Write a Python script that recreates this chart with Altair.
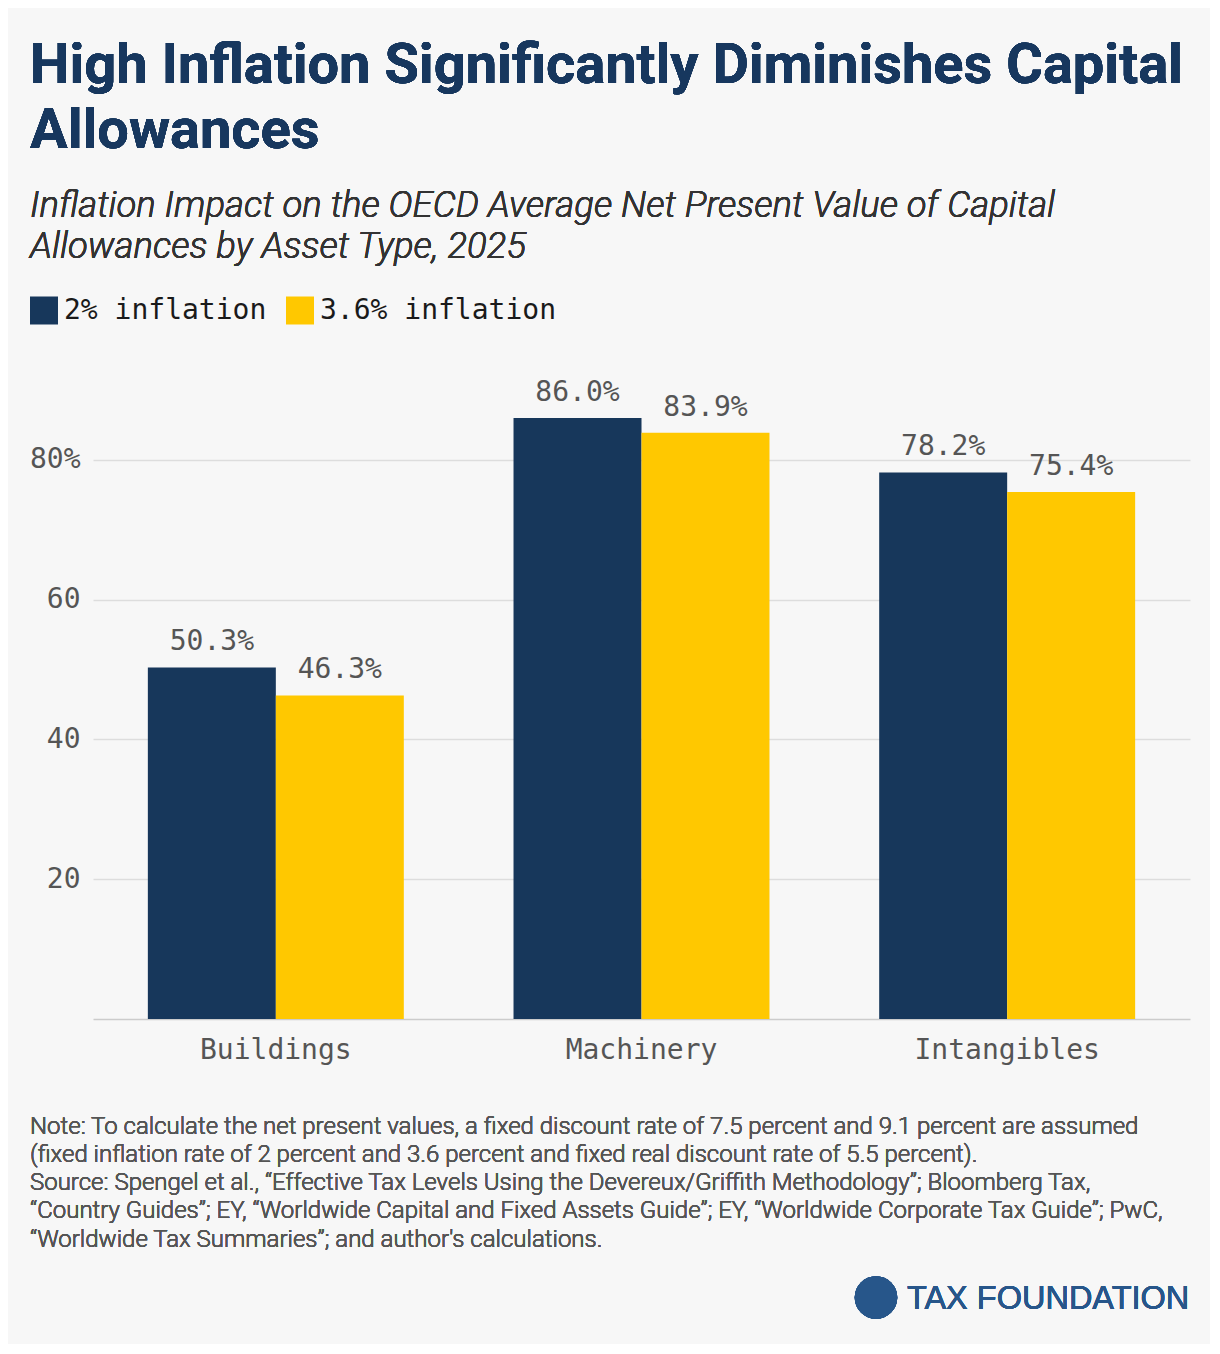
import altair as alt
import pandas as pd

categories = ["Buildings", "Machinery", "Intangibles"]
series = ["2% inflation", "3.6% inflation"]
values_2 = [50.3, 86.0, 78.2]
values_36 = [46.3, 83.9, 75.4]
y_ticks = [20, 40, 60, 80]

title_lines = ["High Inflation Significantly Diminishes Capital", "Allowances"]
subtitle_lines = ["Inflation Impact on the OECD Average Net Present Value of Capital",
                  "Allowances by Asset Type, 2025"]
note_lines = [
    "Note: To calculate the net present values, a fixed discount rate of 7.5 percent and 9.1 percent are assumed",
    "(fixed inflation rate of 2 percent and 3.6 percent and fixed real discount rate of 5.5 percent).",
    "Source: Spengel et al., \u201cEffective Tax Levels Using the Devereux/Griffith Methodology\u201d; Bloomberg Tax,",
    "\u201cCountry Guides\u201d; EY, \u201cWorldwide Capital and Fixed Assets Guide\u201d; EY, \u201cWorldwide Corporate Tax Guide\u201d; PwC,",
    "\u201cWorldwide Tax Summaries\u201d; and author's calculations.",
]
logo_text = "TAX FOUNDATION"

rows = []
for c, a, b in zip(categories, values_2, values_36):
    rows.append({"category": c, "series": series[0], "value": a})
    rows.append({"category": c, "series": series[1], "value": b})
df = pd.DataFrame(rows)
df["label"] = df["value"].map(lambda v: f"{v:.1f}%")

NAVY = "#17375b"
YELLOW = "#ffc800"
MONO = "DejaVu Sans Mono"
MONO_SIZE = 28

x_enc = alt.X("category:N", sort=categories,
              scale=alt.Scale(paddingInner=0.3, paddingOuter=0.15),
              axis=alt.Axis(title=None, labelAngle=0, ticks=False, domain=True,
                            domainColor="#cccccc", domainWidth=1.5,
                            labelFont=MONO, labelFontSize=MONO_SIZE, labelColor="#555555",
                            labelPadding=17, labelLimit=600))
xoff = alt.XOffset("series:N", sort=series, scale=alt.Scale(paddingInner=0, paddingOuter=0))
y_enc = alt.Y("value:Q", scale=alt.Scale(domain=[0, 90], nice=False),
              axis=alt.Axis(title=None, values=y_ticks, grid=True, gridColor="#dddddd",
                            gridWidth=1.5, domain=False, ticks=False,
                            labelFont=MONO, labelFontSize=MONO_SIZE, labelColor="#555555",
                            labelPadding=13,
                            labelExpr="datum.value == 80 ? '80%' : datum.label"))

base = alt.Chart(df)

bars = base.mark_bar().encode(
    x=x_enc, xOffset=xoff, y=y_enc,
    color=alt.Color("series:N", sort=series,
                    scale=alt.Scale(domain=series, range=[NAVY, YELLOW]),
                    legend=alt.Legend(title=None, orient="none", direction="horizontal",
                                      legendX=-63, legendY=-93.5,
                                      symbolType="square", symbolSize=784,
                                      symbolStrokeWidth=0, symbolOpacity=1,
                                      labelFont=MONO, labelFontSize=MONO_SIZE,
                                      labelColor="#1a1a1a", labelOffset=6,
                                      columnPadding=19, labelLimit=400)),
)

labels = base.mark_text(font=MONO, fontSize=MONO_SIZE, color="#555555",
                        baseline="alphabetic", dy=-17).encode(
    x=alt.X("category:N", sort=categories),
    xOffset=alt.XOffset("series:N", sort=series),
    y="value:Q",
    text="label:N",
)

frame = alt.Chart(df).mark_rect(opacity=0).encode(
    x=alt.value(-85), x2=alt.value(1117), y=alt.value(-381.5), y2=alt.value(954)
)

title = alt.Chart(df).mark_text(font="Roboto", fontSize=56, fontWeight="bold",
                                color="#17375e", align="left", baseline="alphabetic",
                                lineHeight=65.4).encode(
    x=alt.value(-63), y=alt.value(-307.2), text=alt.value(title_lines))

subtitle = alt.Chart(df).mark_text(font="Roboto", fontSize=36.5, fontStyle="italic",
                                   fontWeight=300, color="#333333", align="left",
                                   baseline="alphabetic", lineHeight=41).encode(
    x=alt.value(-63), y=alt.value(-173.5), text=alt.value(subtitle_lines))

notes = alt.Chart(df).mark_text(font="Roboto", fontSize=24, fontWeight=300, color="#555555",
                                align="left", baseline="alphabetic",
                                lineHeight=28.2).encode(
    x=alt.value(-63), y=alt.value(743.8), text=alt.value(note_lines))

logo_circle = alt.Chart(df).mark_point(filled=True, shape="circle", size=1810,
                                       color="#27568a", opacity=1).encode(
    x=alt.value(783), y=alt.value(907.5))

logo_label = alt.Chart(df).mark_text(font="Liberation Sans", fontSize=32.5,
                                     color="#27568a", align="left",
                                     baseline="alphabetic").encode(
    x=alt.value(814), y=alt.value(918.8), text=alt.value(logo_text))

chart = alt.layer(frame, bars, labels, title, subtitle, notes, logo_circle, logo_label).properties(
    width=1097, height=629, padding=0, background="#f7f7f7"
).configure_view(stroke=None)

chart.save("out.html", embed_options={"renderer": "svg", "actions": False})
